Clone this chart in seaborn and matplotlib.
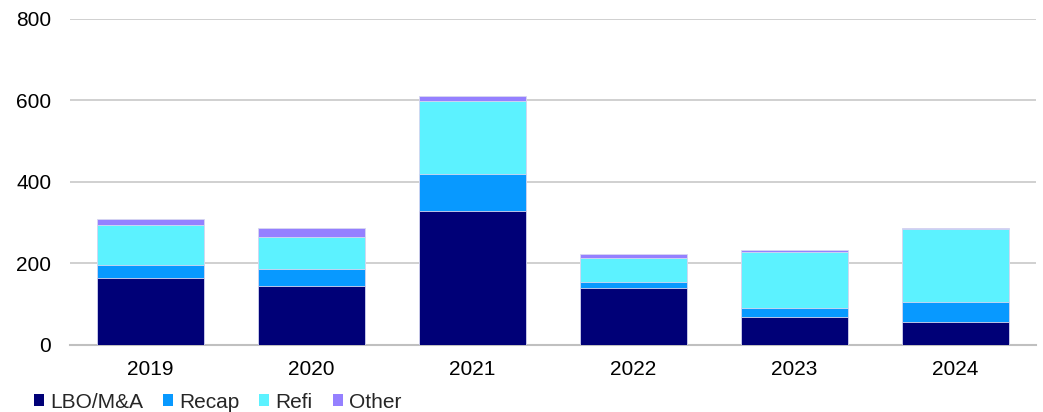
import matplotlib
matplotlib.use("Agg")
import matplotlib.pyplot as plt
import seaborn as sns
import pandas as pd
import numpy as np
from matplotlib.patches import Patch

years = ["2019", "2020", "2021", "2022", "2023", "2024"]
lbo = [164, 145, 328, 140, 68, 57]
recap = [32, 40, 91, 14, 23, 48]
refi = [98, 80, 179, 59, 138, 179]
other = [14, 22, 14, 11, 3, 3]

series_names = ["LBO/M&A", "Recap", "Refi", "Other"]
series_vals = [lbo, recap, refi, other]
colors = ["#000077", "#0899FF", "#5CF2FF", "#9580FF"]

sns.set_theme(style="white")
plt.rcParams["font.family"] = ["Liberation Sans", "DejaVu Sans"]

fig = plt.figure(figsize=(10.43, 4.12), dpi=100)
ax = fig.add_axes([0.067, 0.163, 0.926, 0.791])

cum = np.cumsum(np.array(series_vals), axis=0)
for i in range(len(series_names) - 1, -1, -1):
    df = pd.DataFrame({"year": years, "value": cum[i]})
    sns.barplot(data=df, x="year", y="value", color=colors[i], width=0.665,
                edgecolor="#D8D8F0", linewidth=0.6, saturation=1, ax=ax, zorder=3)

ax.set_ylim(0, 800)
ax.set_xlim(-0.5, 5.5)
ax.set_yticks([0, 200, 400, 600, 800])
ax.yaxis.grid(True, color="#C8C8C8", linewidth=1.2, zorder=0)
ax.set_axisbelow(True)
for s in ["left", "right", "top"]:
    ax.spines[s].set_visible(False)
ax.spines["bottom"].set_color("#C0C0C0")
ax.spines["bottom"].set_linewidth(1.5)
ax.set_xlabel("")
ax.set_ylabel("")
ax.tick_params(axis="both", length=0, labelsize=15, colors="#000000")
ax.tick_params(axis="x", pad=11)
ax.tick_params(axis="y", pad=13.5)

handles = [Patch(facecolor=c, edgecolor="none", label=n) for c, n in zip(colors, series_names)]
fig.legend(handles=handles, loc="center left", bbox_to_anchor=(0.0326, 10 / 412), ncol=4,
           frameon=False, fontsize=15, handlelength=0.48, handleheight=0.48,
           handletextpad=0.29, columnspacing=0.96, borderpad=0, borderaxespad=0)

fig.savefig("out.png", dpi=100)
